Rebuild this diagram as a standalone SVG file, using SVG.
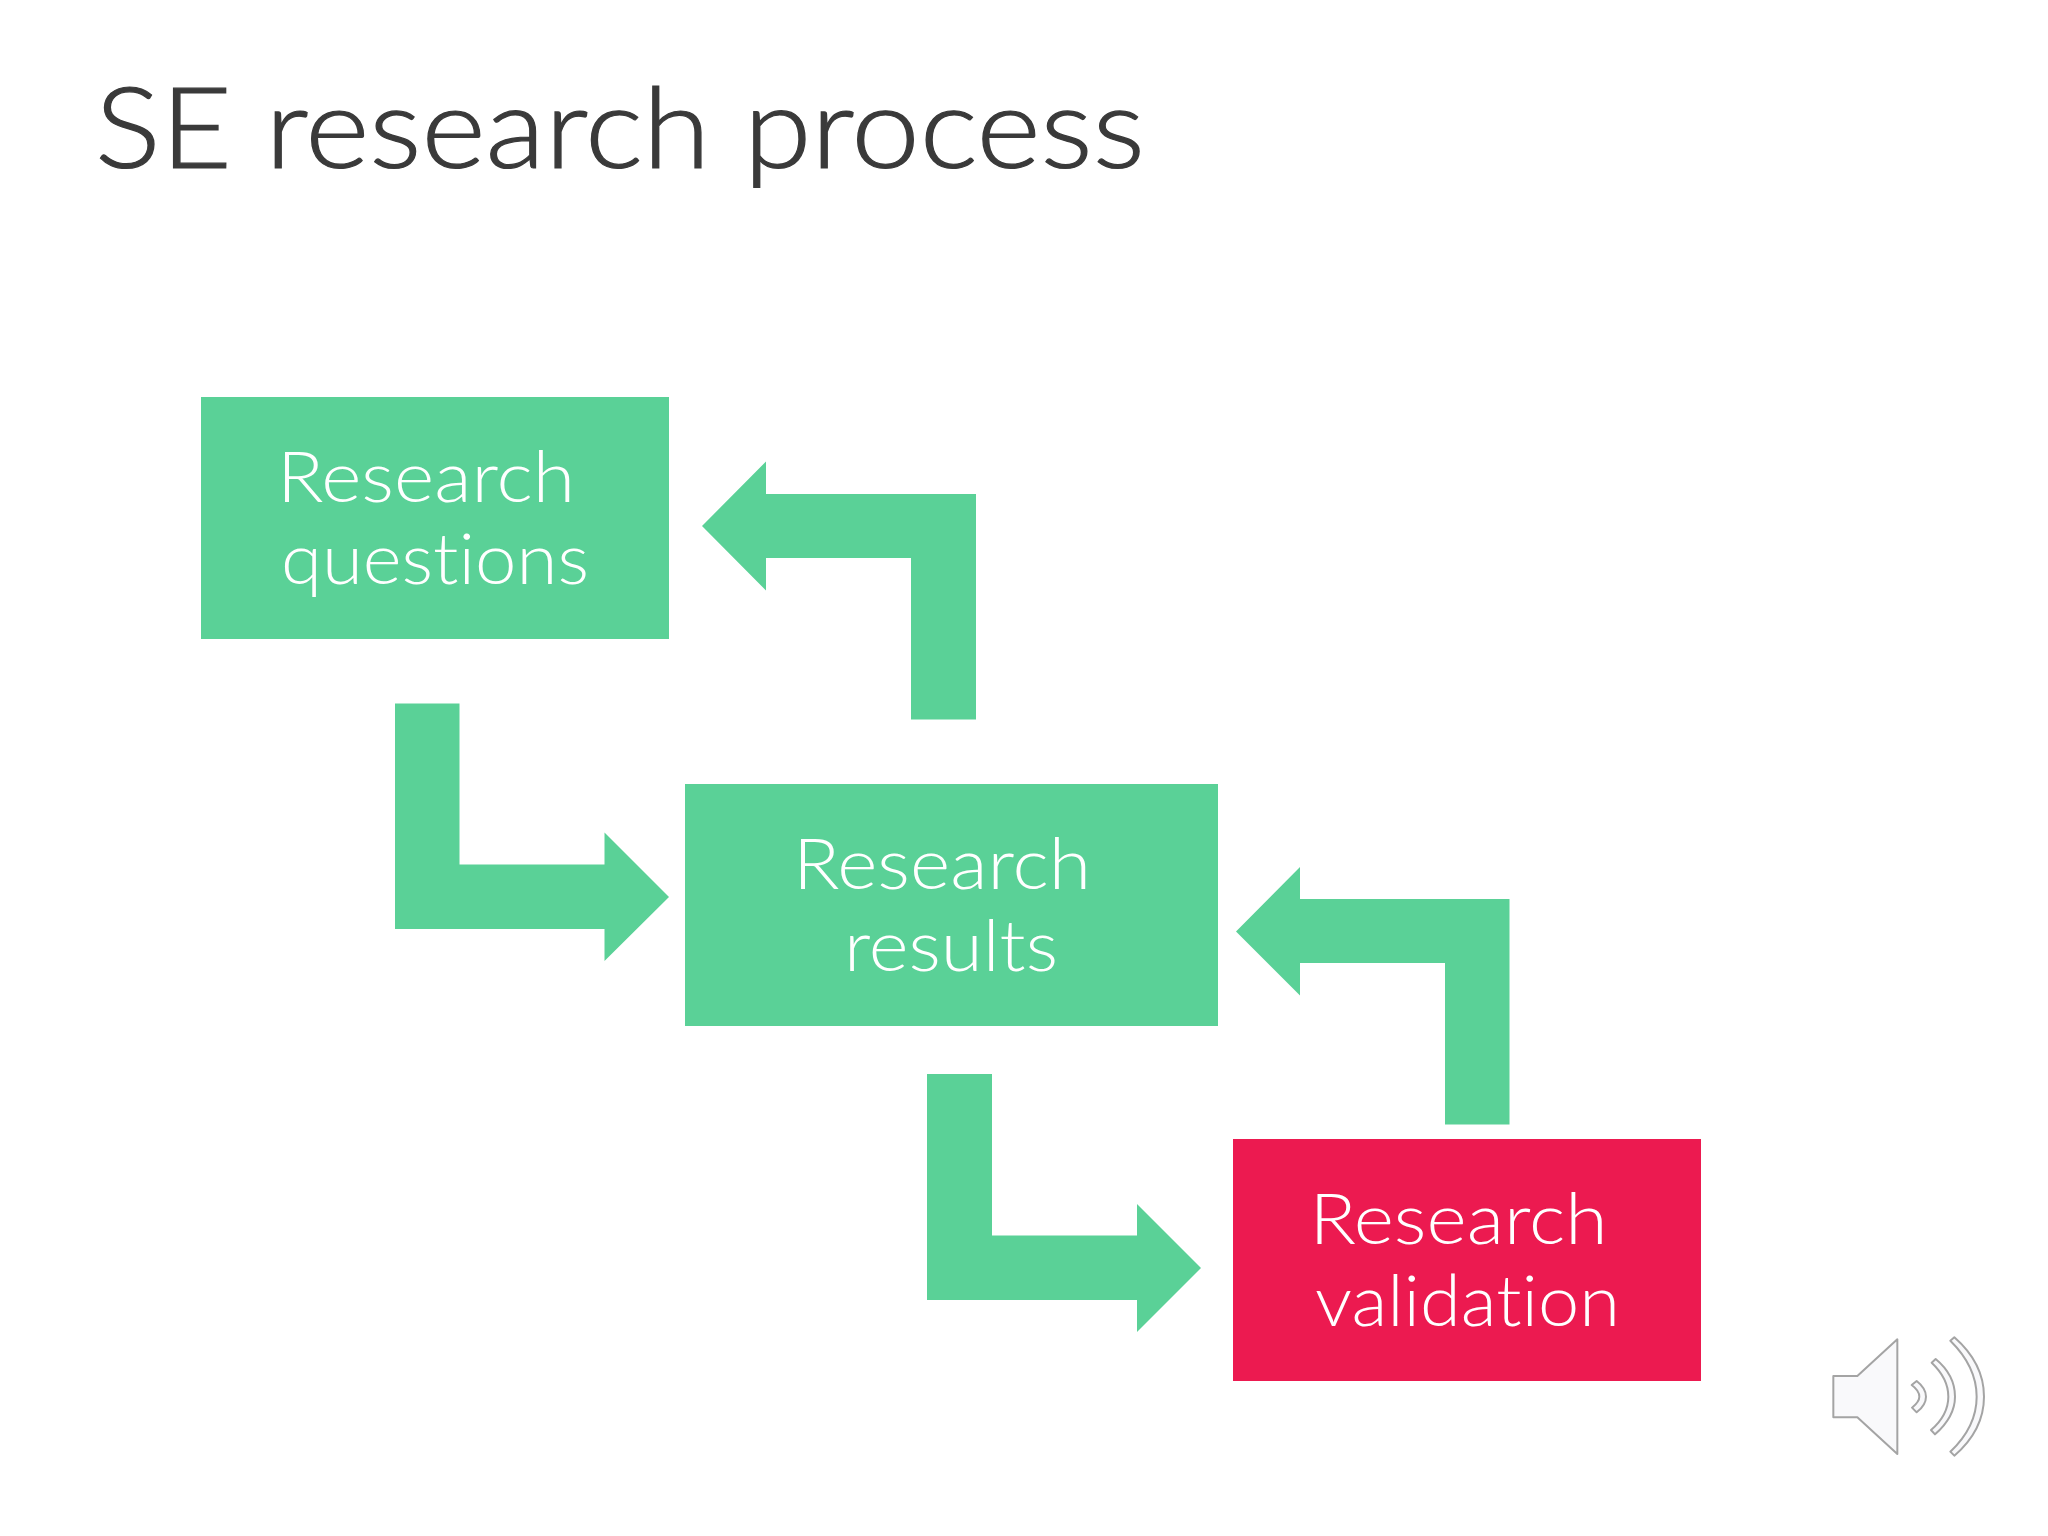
<svg xmlns="http://www.w3.org/2000/svg" width="2048" height="1536" viewBox="0 0 2048 1536">
<style>
.g{fill:#5ad197}
.r{fill:#ec1a50}
text{font-family:"Lato","Open Sans","Liberation Sans",sans-serif;font-weight:300;font-variant-ligatures:none}
.l{fill:#fff;font-size:71px}
.t{fill:#3a3a3a;font-size:113px;stroke:#3a3a3a;stroke-width:1.2px}
.s{fill:#f9f9fb;stroke:#a4a4a4;stroke-width:6;stroke-linejoin:round}
</style>
<rect width="2048" height="1536" fill="#fff"/>
<g id="title"><text class="t" x="95" y="168" textLength="1050" lengthAdjust="spacingAndGlyphs">SE research process</text></g>
<g id="connectors">
<polygon class="g" points="702,526 766,461.500 766,494 976,494 976,719.500 911,719.500 911,558 766,558 766,590.500"/>
<polygon class="g" points="395,703.500 459.500,703.500 459.500,864.500 604.500,864.500 604.500,832.500 669,897 604.500,961 604.500,929 395,929"/>
<polygon class="g" points="1236,931.500 1300,867 1300,899 1509.500,899 1509.500,1124.500 1445,1124.500 1445,963 1300,963 1300,995.500"/>
<polygon class="g" points="927,1074 992,1074 992,1235.500 1137,1235.500 1137,1204 1201,1268 1137,1332 1137,1300 927,1300"/>
</g>
<g id="node-questions">
<rect class="g" x="201" y="397" width="468" height="242"/>
<text class="l" x="277" y="502" textLength="298" lengthAdjust="spacingAndGlyphs">Research</text>
<text class="l" x="281" y="584" textLength="308" lengthAdjust="spacingAndGlyphs">questions</text>
</g>
<g id="node-results">
<rect class="g" x="685" y="784" width="533" height="242"/>
<text class="l" x="793" y="889" textLength="298" lengthAdjust="spacingAndGlyphs">Research</text>
<text class="l" x="844" y="971" textLength="214" lengthAdjust="spacingAndGlyphs">results</text>
</g>
<g id="node-validation">
<rect class="r" x="1233" y="1139" width="468" height="242"/>
<text class="l" x="1309.500" y="1244" textLength="298" lengthAdjust="spacingAndGlyphs">Research</text>
<text class="l" x="1315" y="1326" textLength="305" lengthAdjust="spacingAndGlyphs">validation</text>
</g>
<g id="speaker" transform="translate(1780 1300) scale(.33333)">
<path class="s" d="M160 228H232L352 118V462L232 352H160Z"/>
<path class="s" d="M395 255L410 243Q438 265 438 290Q438 315 410 337L396 323Q418 305 418 290Q418 272 395 255Z"/>
<path class="s" d="M455 188L467 177Q525 225 525 290Q525 350 465 403L453 390Q505 345 505 290Q505 235 455 188Z"/>
<path class="s" d="M511 122L523 112Q612 190 612 290Q612 390 523 467L511 455Q590 380 590 290Q590 200 511 122Z"/>
</g>
</svg>
